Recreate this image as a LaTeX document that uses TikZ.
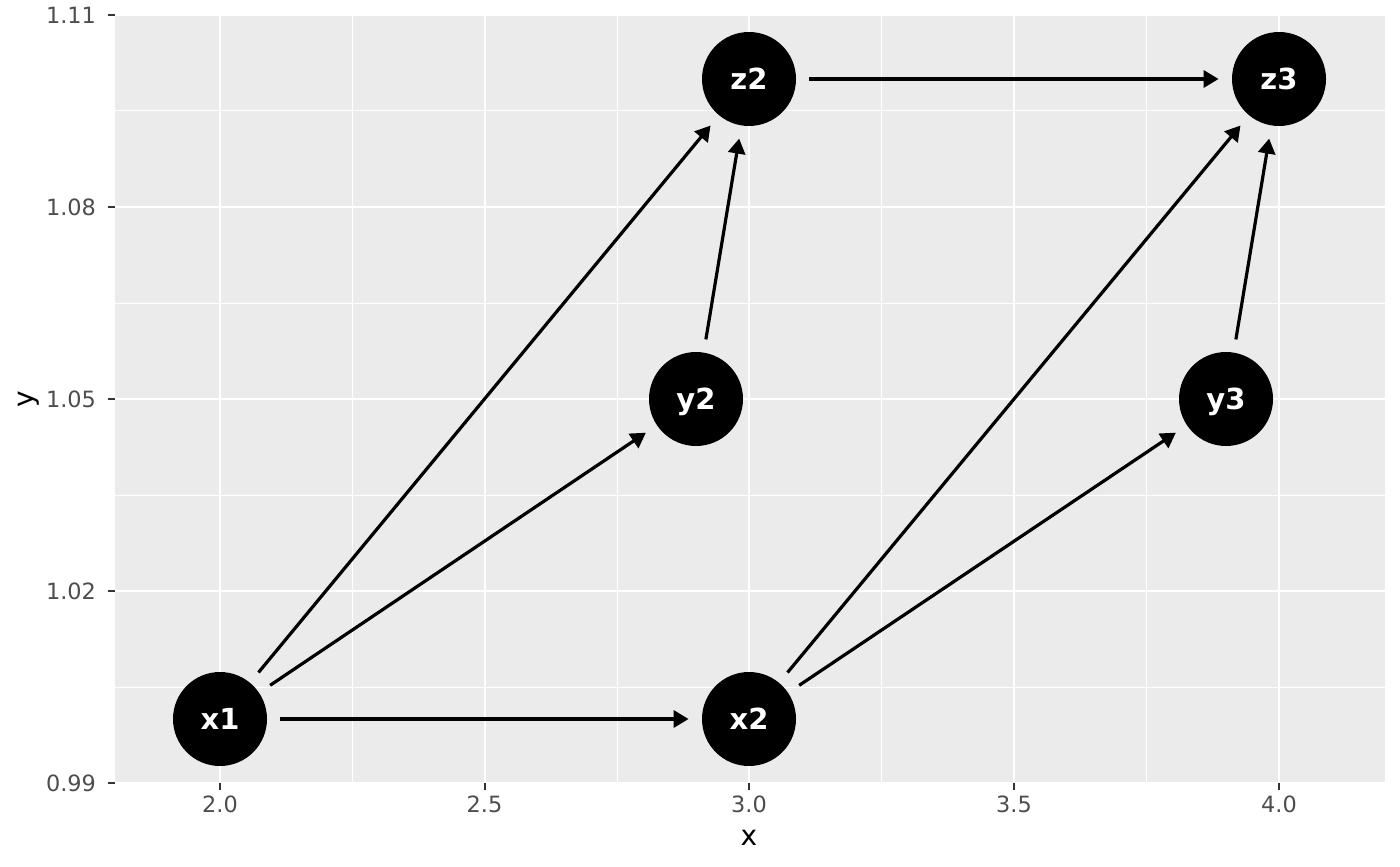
\documentclass[tikz,border=0pt]{standalone}
\usepackage{fontspec}
\setmainfont{DejaVu Sans}
\usetikzlibrary{arrows.meta}
\definecolor{panel}{HTML}{EBEBEB}
\definecolor{tickc}{HTML}{333333}
\definecolor{labc}{HTML}{4D4D4D}
\begin{document}
\begin{tikzpicture}[x=0.5pt,y=-0.5pt,
  vnode/.style={circle,fill=black,draw=none,minimum size=47pt,inner sep=0pt},
  vlab/.style={text=white,font=\fontsize{14.5}{16}\selectfont\bfseries,inner sep=0pt,text height=10.6pt,text depth=0pt},
  edge/.style={line width=1.6pt,-{Triangle[length=7.5pt,width=8.5pt]},shorten >=6.5pt,shorten <=6.5pt},
  major/.style={white,line width=1pt},
  minor/.style={white,line width=0.5pt},
  ticklab/.style={labc,font=\fontsize{11.2}{13}\selectfont},
  axtitle/.style={black,font=\fontsize{14}{16}\selectfont}]
\useasboundingbox (0,0) rectangle (1400,866);
\fill[panel] (115,15) rectangle (1385,783);
% minor grid
\foreach \x in {352,617,881,1146} \draw[minor] (\x,15) -- (\x,783);
\foreach \y in {111,303,495,687} \draw[minor] (115,\y) -- (1385,\y);
% major grid
\foreach \x in {220,484.5,749,1014,1279} \draw[major] (\x,15) -- (\x,783);
\foreach \y in {15,207,399,591,783} \draw[major] (115,\y) -- (1385,\y);
% ticks and labels
\foreach \x/\l in {220/2.0,484.5/2.5,749/3.0,1014/3.5,1279/4.0} {
  \draw[tickc,line width=1pt] (\x,783) -- (\x,790);
  \node[ticklab] at (\x,804) {\l};
}
\foreach \y/\l in {15/1.11,207/1.08,399/1.05,591/1.02,783/0.99} {
  \draw[tickc,line width=1pt] (108,\y) -- (115,\y);
  \node[ticklab,anchor=east] at (103,\y) {\l};
}
\node[axtitle] at (749,838) {x};
\node[axtitle,rotate=90] at (29,399) {y};
% nodes
\foreach \n/\px/\py in {x1/220/719,x2/749/719,y2/696/399,y3/1226/399,z2/749/79,z3/1279/79} {
  \node[vnode] (\n) at (\px,\py) {};
  \node[vlab] (\n-lab) at (\n.center) {\n};
}
% edges
\draw[edge] (x1) -- (x2);
\draw[edge] (x1) -- (y2);
\draw[edge] (x1) -- (z2);
\draw[edge] (x2) -- (y3);
\draw[edge] (x2) -- (z3);
\draw[edge] (y2) -- (z2);
\draw[edge] (y3) -- (z3);
\draw[edge] (z2) -- (z3);
\end{tikzpicture}
\end{document}
